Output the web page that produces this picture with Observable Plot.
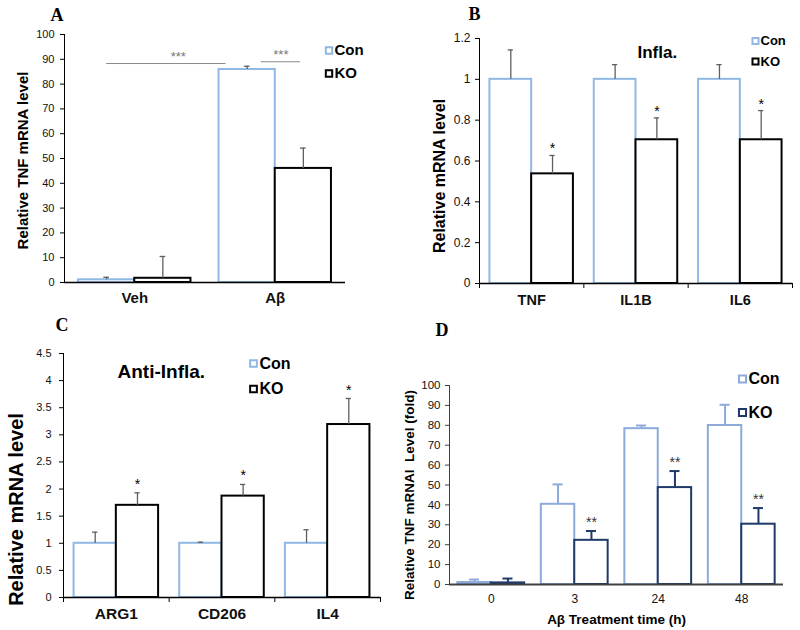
<!DOCTYPE html>
<html><head><meta charset="utf-8">
<script src="https://cdn.jsdelivr.net/npm/d3@7"></script>
<script src="https://cdn.jsdelivr.net/npm/@observablehq/plot@0.6"></script>
<style>
body{margin:0;background:#fff;}
#fig{position:relative;width:800px;height:630px;background:#fff;}
#fig > svg{position:absolute;}
svg text{white-space:pre;}
</style></head><body><div id="fig"></div>
<script>
const series = ["Con", "KO"];

// ---- Panel A ----
const aCategories = ["Veh", "Aβ"];
const aCon = [1.1, 85.9];
const aConErr = [1.0, 1.3];
const aKO = [1.7, 46];
const aKOErr = [8.8, 8.2];
const aTicks = [0, 10, 20, 30, 40, 50, 60, 70, 80, 90, 100];
const aSigX1 = [-0.2, 0.9];
const aSigX2 = [0.65, 1.18];
const aSigY = [88.3, 89];
const aSigTextX = [0.31, 1.04];
const aSigLabels = ["***", "***"];

// ---- Panel B ----
const bCategories = ["TNF", "IL1B", "IL6"];
const bCon = [1, 1, 1];
const bConErr = [0.144, 0.072, 0.072];
const bKO = [0.537, 0.704, 0.704];
const bKOErr = [0.09, 0.107, 0.143];
const bKOStars = ["*", "*", "*"];
const bTicks = [0, 0.2, 0.4, 0.6, 0.8, 1, 1.2];

// ---- Panel C ----
const cCategories = ["ARG1", "CD206", "IL4"];
const cCon = [1, 1, 1];
const cConErr = [0.205, 0.02, 0.25];
const cKO = [1.70, 1.87, 3.19];
const cKOErr = [0.23, 0.215, 0.48];
const cKOStars = ["*", "*", "*"];
const cTicks = [0, 0.5, 1, 1.5, 2, 2.5, 3, 3.5, 4, 4.5];

// ---- Panel D ----
const dCategories = ["0", "3", "24", "48"];
const dCon = [1, 40.3, 78.3, 79.9];
const dConErr = [1.5, 10, 1.6, 10.4];
const dKO = [0.8, 22.2, 48.7, 30.3];
const dKOErr = [2.2, 4.7, 8.3, 8.1];
const dKOStars = ["", "**", "**", "**"];
const dTicks = [0, 10, 20, 30, 40, 50, 60, 70, 80, 90, 100];

const FONT = "'Liberation Sans', Arial, Helvetica, sans-serif";
const SERIF = "'Liberation Serif', 'Times New Roman', serif";
const GW = 0.8; // group width as a fraction of a category step

function buildTable(cats, vals, errs, stars) {
  const t = [];
  cats.forEach((c, i) => {
    series.forEach((s, j) => {
      const x1 = i - GW / 2 + j * GW / 2;
      t.push({cat: c, s, v: vals[j][i], top: vals[j][i] + errs[j][i],
              x1, x2: x1 + GW / 2, xc: x1 + GW / 4, star: stars && stars[j] ? stars[j][i] : ""});
    });
  });
  return t;
}

function legendMarks(p) {
  const m = [];
  series.forEach((s, j) => {
    m.push(Plot.dot([s], {frameAnchor: p.legend.anchor, dx: p.legend.sqDx, dy: p.legend.dy[j],
      symbol: "square", r: p.legend.r, fill: "white", stroke: p.colors[s], strokeWidth: 2}));
    m.push(Plot.text([s], {frameAnchor: p.legend.anchor, dx: p.legend.txtDx, dy: p.legend.dy[j],
      text: d => d, textAnchor: "start", lineAnchor: "middle", fontWeight: "bold",
      fontSize: p.legend.fontSize, fill: "#000"}));
  });
  return m;
}

function drawPanel(p) {
  const table = buildTable(p.cats, p.vals, p.errs, p.stars);
  const n = p.cats.length;
  const marks = [
    Plot.rectY(table, {x1: "x1", x2: "x2", y1: 0, y2: "v", fill: "white",
      stroke: d => p.colors[d.s], strokeWidth: 2}),
    Plot.ruleX(table, {x: "xc", y1: "v", y2: "top", stroke: d => p.errColors[d.s], strokeWidth: p.errWidth}),
    Plot.ruleY(table, {y: "top", x1: d => d.xc - p.cap, x2: d => d.xc + p.cap,
      stroke: d => p.errColors[d.s], strokeWidth: p.errWidth}),
    Plot.text(table.filter(d => d.star), {x: "xc", y: "top", text: "star", dy: p.starDy,
      lineAnchor: "bottom", fontSize: p.starSize, fill: p.starColor}),
    Plot.ruleY([0], {stroke: p.axisColor, strokeWidth: p.axisWidth}),
    Plot.ruleX([-0.5], {stroke: p.axisColor, strokeWidth: 1}),
    Plot.axisY({ticks: p.yTicks, tickFormat: d => String(d), tickSize: p.yTickSize, tickPadding: p.yTickPadding,
      fontSize: p.yTickFont, label: null, stroke: p.axisColor}),
    Plot.axisX({ticks: d3.range(n), tickFormat: i => p.cats[i], tickSize: 0, tickPadding: p.xTickPadding,
      fontSize: p.xTickFont, fontWeight: p.xTickWeight, label: null}),
    Plot.text([p.yTitle], {frameAnchor: "left", rotate: -90, dx: p.yTitleDx, dy: p.yTitleDy,
      textAnchor: "middle", lineAnchor: "middle",
      fontWeight: "bold", fontSize: p.yTitleFont, fill: "#000"}),
    Plot.text([p.letter], {frameAnchor: "top-left", dx: p.letterDx, dy: p.letterDy, textAnchor: "start",
      lineAnchor: "bottom", fontFamily: SERIF, fontWeight: "bold", fontSize: 18, fill: "#000"}),
    ...legendMarks(p)
  ];
  if (p.boundaryTicks) {
    marks.push(Plot.axisX({ticks: d3.range(n + 1).map(i => i - 0.5), tickFormat: () => "", tickSize: 5,
      label: null, stroke: p.axisColor}));
  }
  if (p.extra) marks.push(...p.extra);
  const svg = Plot.plot({
    width: p.width, height: p.height,
    marginLeft: p.margin[0], marginRight: p.margin[1], marginTop: p.margin[2], marginBottom: p.margin[3],
    x: {domain: [-0.5, n - 0.5]},
    y: {domain: p.yDomain},
    color: {type: "identity"},
    style: {fontFamily: FONT, fontSize: "11px", color: "#111", background: "transparent", overflow: "visible"},
    marks
  });
  svg.style.left = p.left + "px";
  svg.style.top = p.top + "px";
  document.getElementById("fig").appendChild(svg);
}

const lightBlue = "#8fb8e4";
const gray = "#5f5f5f";

// Panel A
const aSig = aSigLabels.map((l, i) => ({x1: aSigX1[i], x2: aSigX2[i], y: aSigY[i], tx: aSigTextX[i], label: l}));
drawPanel({
  left: 0, top: 0, width: 400, height: 310, margin: [64, 55, 34, 28],
  cats: aCategories, vals: [aCon, aKO], errs: [aConErr, aKOErr], stars: null,
  yDomain: [0, 100], yTicks: aTicks, yTickSize: 4, yTickPadding: 6, yTickFont: 11,
  xTickPadding: 10, xTickFont: 15, xTickWeight: "bold",
  colors: {Con: lightBlue, KO: "#000"}, errColors: {Con: gray, KO: gray}, errWidth: 1.3, cap: 0.02,
  axisColor: "#000", axisWidth: 1.5,
  starDy: -3, starSize: 14, starColor: "#000",
  yTitle: "Relative TNF mRNA level", yTitleDx: -41, yTitleDy: 2, yTitleFont: 15,
  letter: "A", letterDx: -14, letterDy: -14,
  legend: {anchor: "top-right", sqDx: -16.5, txtDx: -11, dy: [16, 39], r: 3.6, fontSize: 15},
  extra: [
    Plot.ruleY(aSig, {y: "y", x1: "x1", x2: "x2", stroke: "#8a8a8a", strokeWidth: 1}),
    Plot.text(aSig, {x: "tx", y: "y", text: "label", dy: -3, lineAnchor: "bottom", fontSize: 13, fill: "#777"})
  ]
});

// Panel B
drawPanel({
  left: 400, top: 0, width: 400, height: 310, margin: [79, 8, 38, 27],
  cats: bCategories, vals: [bCon, bKO], errs: [bConErr, bKOErr], stars: [null, bKOStars],
  yDomain: [0, 1.2], yTicks: bTicks, yTickSize: 4, yTickPadding: 5, yTickFont: 12,
  xTickPadding: 11, xTickFont: 14.5, xTickWeight: "bold", boundaryTicks: true,
  colors: {Con: lightBlue, KO: "#000"}, errColors: {Con: gray, KO: gray}, errWidth: 1.3, cap: 0.025,
  axisColor: "#000", axisWidth: 1.3,
  starDy: -2, starSize: 14, starColor: "#000",
  yTitle: "Relative mRNA level", yTitleDx: -40, yTitleDy: 15, yTitleFont: 16,
  letter: "B", letterDx: -11, letterDy: -19,
  legend: {anchor: "top-right", sqDx: -37, txtDx: -32, dy: [2.5, 23], r: 3.4, fontSize: 13},
  extra: [
    Plot.text(["Infla."], {frameAnchor: "top-left", dx: 158, dy: 19, textAnchor: "start", lineAnchor: "bottom",
      fontWeight: "bold", fontSize: 17, fill: "#000"})
  ]
});

// Panel C
drawPanel({
  left: 0, top: 310, width: 400, height: 320, margin: [63, 20, 43, 33],
  cats: cCategories, vals: [cCon, cKO], errs: [cConErr, cKOErr], stars: [null, cKOStars],
  yDomain: [0, 4.5], yTicks: cTicks, yTickSize: 4, yTickPadding: 8, yTickFont: 11,
  xTickPadding: 10, xTickFont: 15.5, xTickWeight: "bold", boundaryTicks: true,
  colors: {Con: lightBlue, KO: "#000"}, errColors: {Con: gray, KO: gray}, errWidth: 1.3, cap: 0.025,
  axisColor: "#000", axisWidth: 1.3,
  starDy: -4, starSize: 14, starColor: "#000",
  yTitle: "Relative mRNA level", yTitleDx: -47, yTitleDy: 34, yTitleFont: 20,
  letter: "C", letterDx: -8, letterDy: -23,
  legend: {anchor: "top-left", sqDx: 190, txtDx: 196, dy: [10, 35.5], r: 3.8, fontSize: 16},
  extra: [
    Plot.text(["Anti-Infla."], {frameAnchor: "top-left", dx: 54, dy: 24, textAnchor: "start", lineAnchor: "bottom",
      fontWeight: "bold", fontSize: 19, fill: "#000"})
  ]
});

// Panel D
drawPanel({
  left: 400, top: 310, width: 400, height: 320, margin: [49, 17, 75, 46],
  cats: dCategories, vals: [dCon, dKO], errs: [dConErr, dKOErr], stars: [null, dKOStars],
  yDomain: [0, 100], yTicks: dTicks, yTickSize: 4, yTickPadding: 5, yTickFont: 11.5,
  xTickPadding: 10, xTickFont: 12, xTickWeight: "normal",
  colors: {Con: "#8eaadc", KO: "#1f3a68"}, errColors: {Con: "#8eaadc", KO: "#1f3a68"}, errWidth: 2, cap: 0.06,
  axisColor: "#404040", axisWidth: 2,
  starDy: -4, starSize: 14, starColor: "#333",
  yTitle: "Relative TNF mRNAl  Level (fold)", yTitleDx: -40, yTitleDy: 10, yTitleFont: 13.5,
  letter: "D", letterDx: -14, letterDy: -50,
  legend: {anchor: "top-right", sqDx: -41, txtDx: -35, dy: [-6.5, 27], r: 4, fontSize: 16},
  extra: [
    Plot.text(["Aβ Treatment time (h)"], {frameAnchor: "bottom", dy: 39, lineAnchor: "bottom",
      fontWeight: "bold", fontSize: 13.5, fill: "#000"})
  ]
});
</script></body></html>
